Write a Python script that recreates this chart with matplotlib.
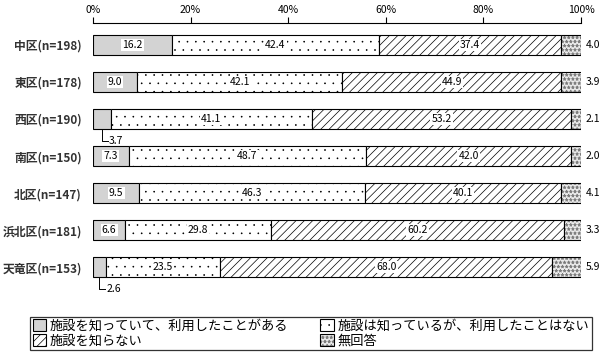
import matplotlib.pyplot as plt
import matplotlib.hatch as mhatch
from matplotlib.legend_handler import HandlerTuple
import numpy as np

plt.rcParams['font.family'] = ['Noto Sans CJK JP', 'DejaVu Sans']
plt.rcParams['hatch.linewidth'] = 0.5
# smaller dots for the '.' hatch, closer to the sparse print texture
mhatch.SmallFilledCircles.size = 0.06

areas = ['中区(n=198)', '東区(n=178)', '西区(n=190)', '南区(n=150)',
         '北区(n=147)', '浜北区(n=181)', '天竜区(n=153)']
used = [16.2, 9.0, 3.7, 7.3, 9.5, 6.6, 2.6]
known_not_used = [42.4, 42.1, 41.1, 48.7, 46.3, 29.8, 23.5]
unknown = [37.4, 44.9, 53.2, 42.0, 40.1, 60.2, 68.0]
no_answer = [4.0, 3.9, 2.1, 2.0, 4.1, 3.3, 5.9]
series_names = ['施設を知っていて、利用したことがある', '施設は知っているが、利用したことはない',
                '施設を知らない', '無回答']

fig = plt.figure(figsize=(6.03, 3.55), dpi=100)
ax = fig.add_axes([93 / 603, 1 - 290 / 355, (581 - 93) / 603, (290 - 23) / 355])

y = np.arange(len(areas))
# fill colour, hatch, hatch colour
styles = [
    ('#d3d3d3', None, 'black'),
    ('white', '..', 'black'),
    ('white', '////', 'black'),
    ('#ececec', '****', '#7a7a7a'),
]
series = [used, known_not_used, unknown, no_answer]
left = np.zeros(len(areas))
handles = []
for vals, (fc, hatch, hc), name in zip(series, styles, series_names):
    vals = np.array(vals)
    # hatch layer, then black outline on top
    ax.barh(y, vals, left=left, height=0.54, facecolor=fc, hatch=hatch,
            edgecolor=hc, linewidth=0)
    ax.barh(y, vals, left=left, height=0.54, fill=False, edgecolor='black', linewidth=0.8)
    fill_h = plt.Rectangle((0, 0), 1, 1, facecolor=fc, hatch=hatch, edgecolor=hc, linewidth=0)
    edge_h = plt.Rectangle((0, 0), 1, 1, fill=False, edgecolor='black', linewidth=0.8)
    handles.append((fill_h, edge_h))
    left += vals

box = dict(facecolor='white', edgecolor='none', pad=0.8)
for i in range(len(areas)):
    u, k, n, a = used[i], known_not_used[i], unknown[i], no_answer[i]
    if u >= 5:
        ax.text(u / 2, i, f'{u:.1f}', ha='center', va='center', fontsize=7.5, bbox=box)
    else:
        ax.plot([u / 2, u / 2, u / 2 + 1.2], [i + 0.3, i + 0.6, i + 0.6], color='black', lw=0.7)
        ax.text(u / 2 + 1.4, i + 0.6, f'{u:.1f}', ha='left', va='center', fontsize=7.5)
    ax.text(u + k / 2, i, f'{k:.1f}', ha='center', va='center', fontsize=7.5, bbox=box)
    ax.text(u + k + n / 2, i, f'{n:.1f}', ha='center', va='center', fontsize=7.5, bbox=box)
    ax.text(101, i, f'{a:.1f}', ha='left', va='center', fontsize=7.5)

ax.set_xlim(0, 100)
ax.set_ylim(6.62, -0.595)
ax.xaxis.tick_top()
ax.set_xticks([0, 20, 40, 60, 80, 100])
ax.set_xticklabels(['0%', '20%', '40%', '60%', '80%', '100%'], fontsize=7.5)
ax.tick_params(axis='x', direction='out', length=4, width=0.8, pad=2)
ax.set_yticks(y)
ax.set_yticklabels(areas, fontsize=8.5, fontweight='bold', color='#333333')
ax.tick_params(axis='y', length=0, pad=8)
for s in ['bottom', 'left', 'right']:
    ax.spines[s].set_visible(False)
ax.spines['top'].set_linewidth(0.8)

leg = fig.legend(handles=[handles[0], handles[2], handles[1], handles[3]],
                 labels=[series_names[0], series_names[2], series_names[1], series_names[3]],
                 handler_map={tuple: HandlerTuple(ndivide=1)},
                 ncol=2, loc='lower left', bbox_to_anchor=(30 / 603, 5 / 355, 562 / 603, 38 / 355),
                 mode='expand', fancybox=False, edgecolor='black', fontsize=9.5,
                 handlelength=1.0, handleheight=1.0, handletextpad=0.3,
                 borderpad=0.2, labelspacing=0.1, borderaxespad=0, columnspacing=1.0)
leg.get_frame().set_linewidth(0.9)

fig.savefig('out.png', dpi=100)
